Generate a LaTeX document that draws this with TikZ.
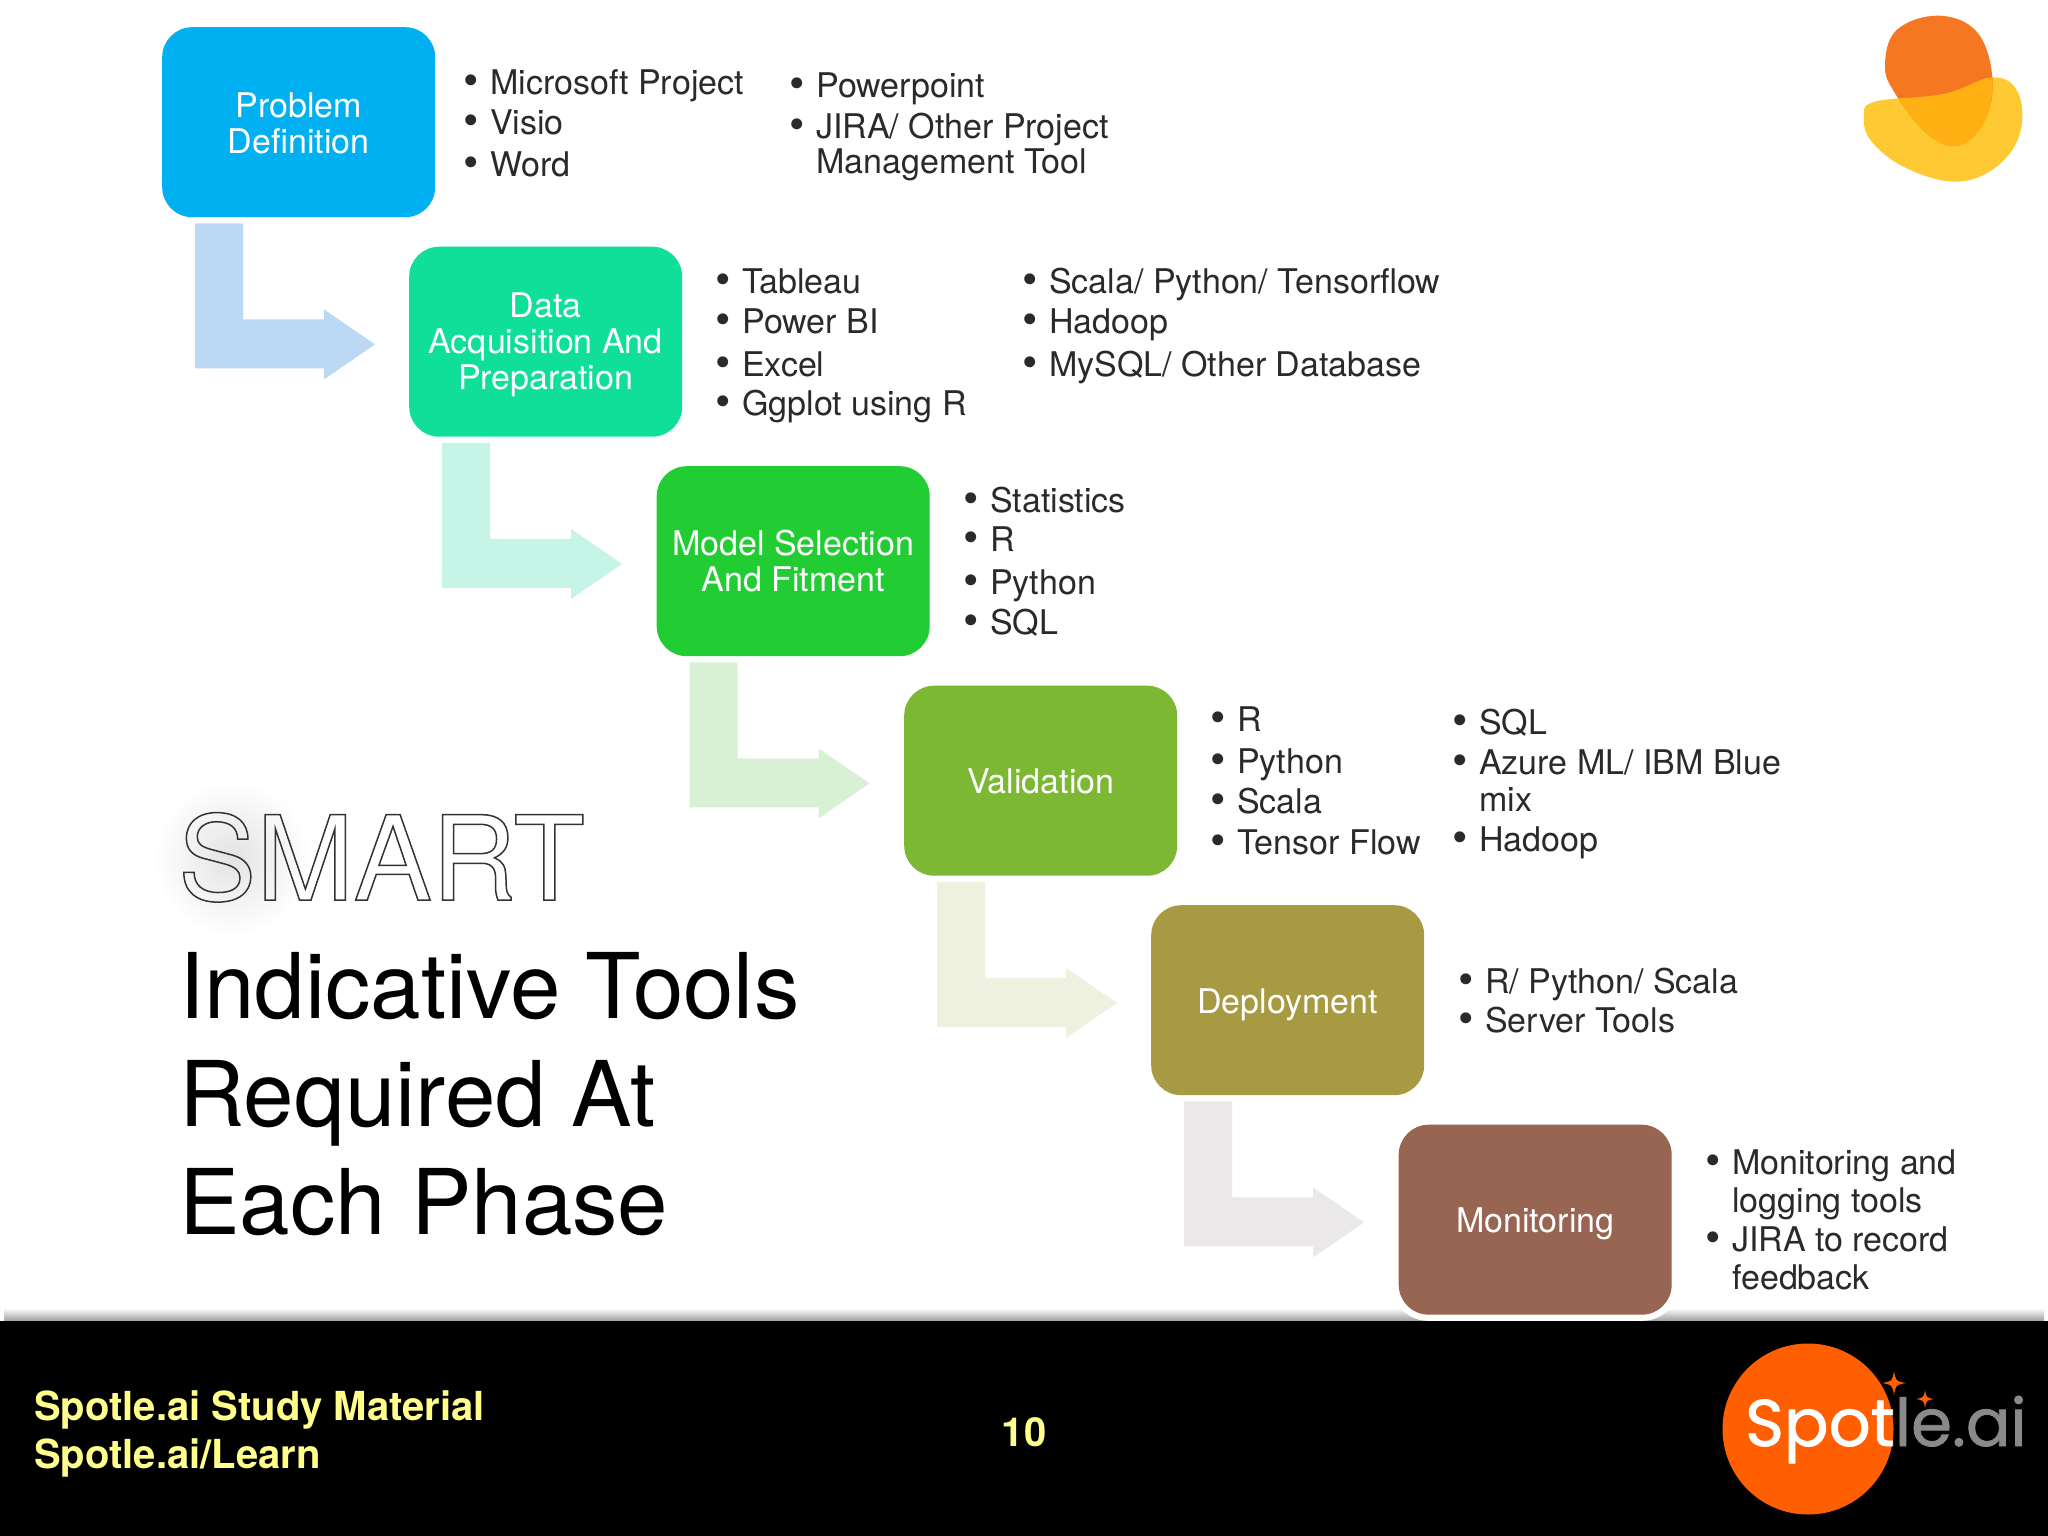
\documentclass[tikz,border=0pt]{standalone}
\usepackage{fontspec}
\setmainfont{TeX Gyre Heros}
\newfontfamily\logofont[FakeBold=1.2]{Poppins}
\usetikzlibrary{calc}
\definecolor{listtext}{HTML}{2A2A2A}
\definecolor{footyellow}{HTML}{FFFF8A}
\definecolor{logoorange}{HTML}{FF5F00}
\definecolor{logogrey}{HTML}{8A8A8A}
\definecolor{blobor}{HTML}{F57722}
\definecolor{bloby}{HTML}{FFC933}
\definecolor{blobmix}{HTML}{FFB012}
\definecolor{pa}{RGB}{0,176,240}
\definecolor{pb}{RGB}{16,223,154}
\definecolor{pc}{RGB}{34,204,51}
\definecolor{pd}{RGB}{124,184,51}
\definecolor{pe}{RGB}{168,154,66}
\definecolor{pf}{RGB}{152,101,82}
\definecolor{aa}{RGB}{187,217,244}
\definecolor{ab}{RGB}{198,244,230}
\definecolor{ac}{RGB}{216,241,212}
\definecolor{ad}{RGB}{238,240,224}
\definecolor{ae}{RGB}{234,232,233}
\newcount\lnum
\newcommand{\bl}[3]{\global\advance\lnum by 1
  \node[listline] (l\the\lnum) at (#1,#2) {\makebox[0pt][r]{{\fontsize{44}{44}\selectfont\raisebox{-1pt}{•}}\hspace{11pt}}#3};}
\newcommand{\cl}[3]{\global\advance\lnum by 1
  \node[listline] (l\the\lnum) at (#1,#2) {#3};}
\newcommand{\bentarrow}[2]{\fill[#2,shift={(#1.south west)}]
  (33,6) -- (81,6) -- (81,102) -- (162,102) -- (162,92) -- (213,127) -- (162,162) -- (162,151) -- (33,151) -- cycle;}
\newcommand{\sparkle}[3]{\fill[logoorange,shift={(#1,#2)},x=#3pt,y=#3pt]
  (0,-1) .. controls (.15,-.15) .. (1,0) .. controls (.15,.15) .. (0,1) .. controls (-.15,.15) .. (-1,0) .. controls (-.15,-.15) .. (0,-1) -- cycle;}
\tikzset{
  phase/.style={rounded corners=30pt,minimum width=273pt,minimum height=190pt,inner sep=0pt,anchor=north west,
    text=white,align=center,font=\fontsize{34}{36}\selectfont},
  oneline/.style={text height=26pt,text depth=0pt},
  listline/.style={anchor=base west,inner sep=0pt,text=listtext,font=\fontsize{34}{37}\selectfont},
  titleline/.style={anchor=base west,inner sep=0pt,text=black,font=\fontsize{90.7}{92}\selectfont},
  footline/.style={anchor=base west,inner sep=0pt,text=footyellow,font=\bfseries\fontsize{40}{44}\selectfont},
}
\begin{document}
\begin{tikzpicture}[x=1pt,y=-1pt]
\useasboundingbox (0,0) rectangle (2048,1536);
\fill[white] (0,0) rectangle (2048,1536);
% footer band
\shade[top color=white,bottom color=black!38] (4,1308) rectangle (2044,1321);
\fill[black] (0,1321) rectangle (2048,1536);
\fill[white,rounded corners=36pt] (1392,1118.5) rectangle (1678.5,1320.8);
% phases
\node[phase,fill=pa] (p1) at (162,27) {\rule{0pt}{27pt}Problem\\Definition};
\node[phase,fill=pb] (p2) at (409,246.5) {\rule{0pt}{32pt}Data\\Acquisition And\\Preparation};
\node[phase,fill=pc] (p3) at (656.5,466) {Model Selection\\And Fitment};
\node[phase,oneline,fill=pd] (p4) at (904,685.5) {Validation};
\node[phase,oneline,fill=pe] (p5) at (1151,905) {Deployment};
\node[phase,oneline,fill=pf] (p6) at (1398.5,1124.5) {Monitoring};
% bent arrows
\bentarrow{p1}{aa}
\bentarrow{p2}{ab}
\bentarrow{p3}{ac}
\bentarrow{p4}{ad}
\bentarrow{p5}{ae}
% lists
\bl{490}{95}{Microsoft Project}
\bl{490}{135}{Visio}
\bl{490}{176}{Word}
\bl{816}{98}{Powerpoint}
\bl{816}{138.5}{JIRA/ Other Project}
\cl{816}{174}{Management Tool}
\bl{742}{293}{Tableau}
\bl{742}{333}{Power BI}
\bl{742}{376}{Excel}
\bl{742}{415}{Ggplot using R}
\bl{1049}{293}{Scala/ Python/ Tensorflow}
\bl{1049}{333}{Hadoop}
\bl{1049}{376}{MySQL/ Other Database}
\bl{990}{512}{Statistics}
\bl{990}{551}{R}
\bl{990}{594}{Python}
\bl{990}{634}{SQL}
\bl{1237}{731}{R}
\bl{1237}{773}{Python}
\bl{1237}{813}{Scala}
\bl{1237}{854}{Tensor Flow}
\bl{1479}{734}{SQL}
\bl{1479}{774}{Azure ML/ IBM Blue}
\cl{1479}{811}{mix}
\bl{1479}{851}{Hadoop}
\bl{1485}{993}{R/ Python/ Scala}
\bl{1485}{1032}{Server Tools}
\bl{1732}{1174}{Monitoring and}
\cl{1732}{1212}{logging tools}
\bl{1732}{1251}{JIRA to record}
\cl{1732}{1289}{feedback}
% SMART
\shade[inner color=black!11,outer color=white,draw=none] (232,858) circle (78);
\node[anchor=base west,inner sep=0pt,font=\fontsize{117}{120}\selectfont] (smart) at (178,900)
  {\special{pdf:code q 1 Tr 1.5 w 0.2 0.2 0.2 RG}SMART\special{pdf:code Q}};
\node[titleline] (t1) at (179,1018) {Indicative Tools};
\node[titleline] (t2) at (179,1126) {Required At};
\node[titleline] (t3) at (179,1234) {Each Phase};
% footer text
\node[footline] (f1) at (34,1420) {Spotle.ai Study Material};
\node[footline] (f2) at (34,1468) {Spotle.ai/Learn};
\node[footline,anchor=base] (f3) at (1024,1446) {10};
% spotle logo
\fill[logoorange] (1808,1429) circle (85.5);
\sparkle{1894}{1383}{12}
\sparkle{1925}{1399}{9}
\node[anchor=base west,inner sep=0pt,font=\logofont\fontsize{66}{68}\selectfont] (logo) at (1745,1446)
  {\textcolor{white}{Spot}\textcolor{logogrey}{le.ai}};
% blob
\begin{scope}[shift={(1830,0)},x=0.3333pt,y=-0.3333pt]
\def\ypath{plot[smooth cycle,tension=0.65] coordinates {(102,350) (135,305) (340,282) (490,232) (565,280) (570,400) (500,500) (380,545) (230,505) (125,425)}}
\def\opath{plot[smooth cycle,tension=0.65] coordinates {(165,195) (200,90) (325,47) (440,95) (487,230) (465,360) (385,437) (290,400) (195,280)}}
\fill[bloby] \ypath;
\fill[blobor] \opath;
\begin{scope}
\clip \ypath;
\fill[blobmix] \opath;
\end{scope}
\end{scope}
\end{tikzpicture}
\end{document}
